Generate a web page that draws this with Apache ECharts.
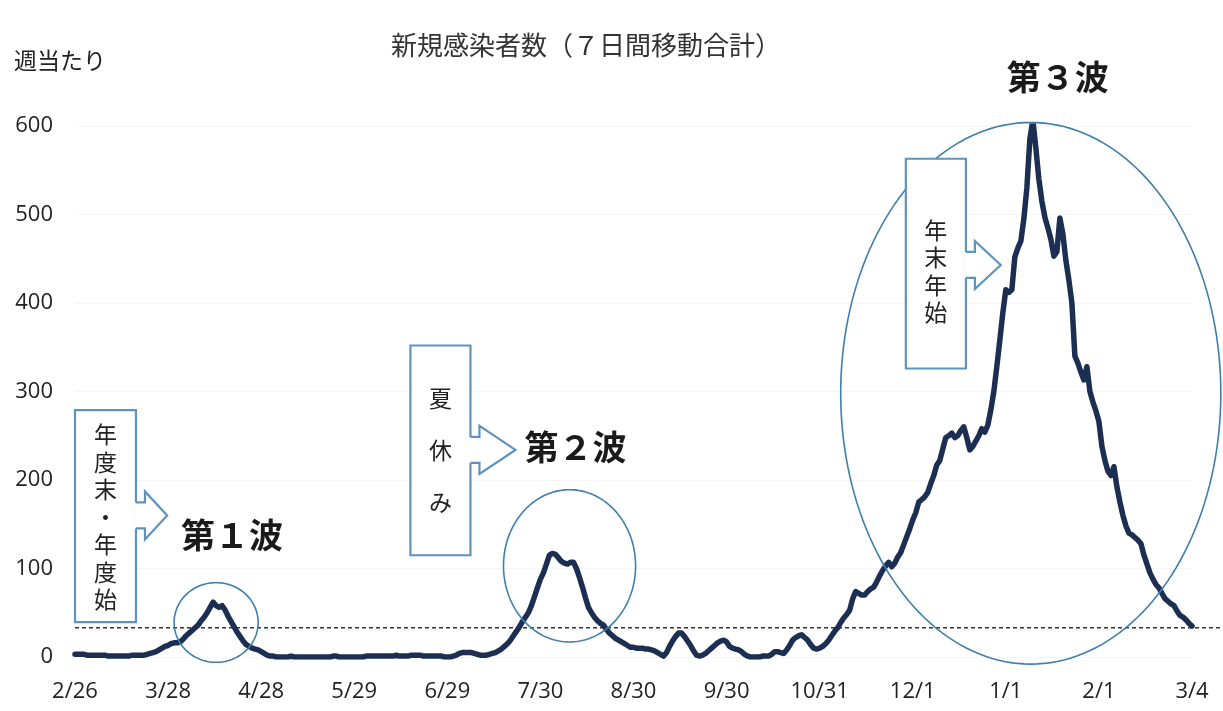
<!DOCTYPE html>
<html><head><meta charset="utf-8">
<script src="https://cdn.jsdelivr.net/npm/echarts@6/dist/echarts.min.js"></script>
<style>html,body{margin:0;padding:0;background:#fff}#c{width:1223px;height:711px}</style>
</head><body><div id="c"></div>
<script>
// ---- data ----
const startDate = [2020, 1, 26]; // 2020-02-26 (month index 1)
const dayCount = 373;
const weeklyCases = [
3,3,3,3,2,2,2,2,2,2,
2,1,1,1,1,1,1,1,1,2,
2,2,2,2,3,4,5,6,8,10,
12,13,15,16,16,17,20,24,27,30,
33,36,41,45,50,56,62,58,56,58,
53,46,40,34,28,23,18,14,12,10,
9,8,6,4,2,1,1,0,0,0,
0,0,1,0,0,0,0,0,0,0,
0,0,0,0,0,0,1,1,0,0,
0,0,0,0,0,0,0,1,1,1,
1,1,1,1,1,1,1,2,1,1,
1,1,2,2,2,2,1,1,1,1,
1,1,1,0,0,0,1,2,4,5,
5,5,5,4,3,2,2,2,3,4,
5,7,9,12,15,19,24,29,34,40,
45,50,58,68,78,88,95,105,115,117,
116,112,108,106,105,107,107,100,90,79,
67,56,50,45,41,38,36,31,27,24,
21,19,17,15,13,11,11,10,10,10,
9,9,8,7,5,3,1,5,12,18,
23,27,27,23,18,13,7,2,1,2,
4,7,10,13,16,18,19,17,12,10,
9,8,6,3,1,0,0,0,0,1,
1,1,3,6,6,5,4,8,13,19,
22,24,25,22,19,14,10,9,10,12,
15,19,24,29,33,39,44,48,53,66,
74,72,70,70,74,77,79,85,92,98,
103,107,102,106,113,118,127,136,145,155,
163,175,178,181,186,196,205,217,222,235,
248,250,253,248,250,256,260,248,234,238,
244,250,258,254,262,279,300,328,358,389,
415,412,415,452,462,470,495,530,585,607,
575,540,515,497,485,472,453,458,496,478,
448,426,400,340,332,322,313,328,300,288,
278,266,238,222,210,205,215,192,175,160,
148,140,138,135,132,128,115,105,95,88,
82,78,72,66,63,60,58,52,47,45,
42,38,35
];
const yMin = 0, yMax = 600, yStep = 100;
const labelEvery = 31;
const thresholdValue = 33;
const titleText = '新規感染者数（７日間移動合計）';
const yUnitText = '週当たり';
// annotations in data space: [centerDay, centerValue, radiusDays, radiusValue]
const waveEllipses = [[47, 39, 14, 45], [164.7, 103, 22, 86], [318.3, 298, 63.3, 306]];
// cause boxes: [leftDay, rightDay, topValue, bottomValue]
const causeBoxes = [[0, 20.3, 279, 39.5], [111.7, 131.7, 352, 115], [276.7, 296.7, 563, 326]];
const causeTexts = ['年度末・年度始', '夏休み', '年末年始'];
const causeLineHeights = [27.5, 52, 27.5];
const causeTextCenter = [[10.15, 158], [121.7, 234], [286.7, 436]];
// arrows: [arrowCenterValue, tipDay]
const causeArrows = [[160, 30.7], [234, 146.7], [443, 308.3]];
const waveTexts = ['第１波', '第２波', '第３波'];
const waveTextPos = [[52.3, 138], [166.7, 237], [327.3, 655]];

// ---- categories ----
const categories = [];
for (let k = 0; k < dayCount; k++) {
  const dt = new Date(startDate[0], startDate[1], startDate[2] + k);
  categories.push((dt.getMonth() + 1) + '/' + dt.getDate());
}

const JP = '"Noto Sans CJK JP", "Noto Sans", sans-serif';
const NUM = '"Open Sans", "Noto Sans", sans-serif';

const chart = echarts.init(document.getElementById('c'), null, {renderer: 'canvas'});
chart.setOption({
  animation: false,
  backgroundColor: '#ffffff',
  title: {
    text: titleText, left: 386, top: 27,
    textStyle: {fontFamily: JP, fontSize: 26, fontWeight: 'normal', color: '#333'}
  },
  grid: {left: 75, right: 31, top: 126, bottom: 54},
  xAxis: {
    type: 'category', data: categories, boundaryGap: false,
    axisLine: {show: false}, axisTick: {show: false}, splitLine: {show: false},
    axisLabel: {interval: labelEvery - 1, margin: 24, fontSize: 22, color: '#222', fontFamily: NUM}
  },
  yAxis: {
    type: 'value', min: yMin, max: yMax, interval: yStep,
    axisLine: {show: false}, axisTick: {show: false},
    splitLine: {show: true, lineStyle: {color: '#f5f5f5', width: 1}},
    axisLabel: {margin: 22, fontSize: 22, color: '#222', fontFamily: NUM}
  },
  series: [{
    type: 'line', data: weeklyCases, symbol: 'none', z: 10,
    lineStyle: {color: '#1c2f52', width: 5.5, join: 'round', cap: 'round'}
  }]
});

const x0 = chart.convertToPixel({xAxisIndex: 0}, 0);
const xN = chart.convertToPixel({xAxisIndex: 0}, dayCount - 1);
function X(i) { return x0 + (xN - x0) * i / (dayCount - 1); }
function Y(v) { return chart.convertToPixel({yAxisIndex: 0}, v); }

const boxColor = '#5f93bf';
const ellColor = '#3f7faa';
const g = [];

// threshold dashed line
g.push({type: 'line', z: 3, shape: {x1: X(0), y1: Y(thresholdValue), x2: 1223, y2: Y(thresholdValue)},
  style: {stroke: '#333', lineWidth: 1.4, lineDash: [4, 3]}});

// ellipses
waveEllipses.forEach(e => {
  const cx = X(e[0]), cy = Y(e[1]);
  const rx = X(e[0] + e[2]) - cx, ry = cy - Y(e[1] + e[3]);
  const pts = [];
  for (let k = 0; k < 180; k++) {
    const a = k / 180 * Math.PI * 2;
    pts.push([cx + rx * Math.cos(a), cy + ry * Math.sin(a)]);
  }
  g.push({type: 'polygon', z: 20, shape: {points: pts}, style: {fill: null, stroke: ellColor, lineWidth: 1.6}});
});

// cause boxes with arrows
causeBoxes.forEach((b, idx) => {
  const l = X(b[0]), r = X(b[1]), t = Y(b[2]), btm = Y(b[3]);
  g.push({type: 'rect', z: 30, shape: {x: l, y: t, width: r - l, height: btm - t},
    style: {fill: '#fff', stroke: boxColor, lineWidth: 2.2}});
  const a = causeArrows[idx];
  const yc = Y(a[0]), tip = X(a[1]);
  const sh = 13, hh = 24, shaftLen = 9;
  const xh = r + shaftLen;
  g.push({type: 'polygon', z: 31, shape: {points: [[r - 1.5, yc - sh], [xh, yc - sh], [xh, yc - hh], [tip, yc], [xh, yc + hh], [xh, yc + sh], [r - 1.5, yc + sh]]},
    style: {fill: '#fff', stroke: null}});
  g.push({type: 'polyline', z: 32, shape: {points: [[r, yc - sh], [xh, yc - sh], [xh, yc - hh], [tip, yc], [xh, yc + hh], [xh, yc + sh], [r, yc + sh]]},
    style: {fill: null, stroke: boxColor, lineWidth: 2.2}});
  const tc = causeTextCenter[idx];
  g.push({type: 'text', z: 33, x: X(tc[0]), y: Y(tc[1]),
    style: {text: causeTexts[idx].split('').join('\n'), fontSize: 23, fontFamily: JP, fill: '#222',
      align: 'center', verticalAlign: 'middle', lineHeight: causeLineHeights[idx]}});
});

// wave labels
waveTexts.forEach((w, idx) => {
  g.push({type: 'text', z: 40, x: X(waveTextPos[idx][0]), y: Y(waveTextPos[idx][1]),
    style: {text: w, fontSize: 34, fontWeight: 'bold', fontFamily: JP, fill: '#1a1a1a', align: 'center', verticalAlign: 'middle'}});
});

// unit label
g.push({type: 'text', z: 40, x: 14, y: 60,
  style: {text: yUnitText, fontSize: 23, fontFamily: JP, fill: '#222', align: 'left', verticalAlign: 'middle'}});

chart.setOption({graphic: g});
</script>
</body></html>
